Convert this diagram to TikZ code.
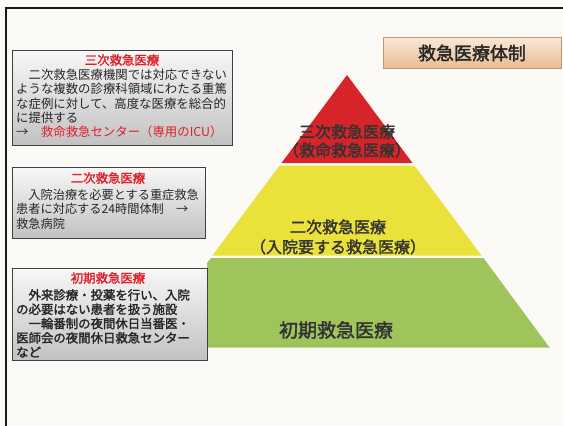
\documentclass[tikz,border=0pt]{standalone}
\usepackage{fontspec}
\newfontfamily\jp{Noto Sans CJK JP}[AutoFakeBold=2]
\definecolor{bgc}{RGB}{252,250,246}
\definecolor{redtier}{RGB}{214,36,42}
\definecolor{yellowtier}{RGB}{234,226,58}
\definecolor{greentier}{RGB}{160,196,92}
\definecolor{titlered}{RGB}{226,30,40}
\definecolor{peachtop}{RGB}{250,232,214}
\definecolor{peachbot}{RGB}{232,186,146}
\definecolor{peachline}{RGB}{196,150,112}
\tikzset{
  infobox/.style={draw=black!75, line width=0.9pt, top color=gray!6, bottom color=gray!48},
  boxtitle/.style={inner sep=0pt, text=titlered, font=\jp\bfseries\fontsize{12.4}{14}\selectfont},
  boxbody/.style={anchor=north west, inner sep=0pt, align=left, text=black!85},
  tierlabel/.style={inner sep=0pt, align=center, text=black!80},
}
\begin{document}
\begin{tikzpicture}[x=1pt,y=-1pt]
\useasboundingbox (0,0) rectangle (563,426);
\fill[bgc] (0,0) rectangle (563,426);
% frame
\draw[line width=2.2pt, black!90] (6,426) -- (6,8) -- (563,8);
% title
\node (title) [draw=peachline, line width=0.8pt, top color=peachtop, bottom color=peachbot,
  minimum width=178pt, minimum height=31pt, inner sep=0pt,
  font=\jp\bfseries\fontsize{18}{20}\selectfont, text=black!85] at (472,53) {救急医療体制};
% pyramid
\fill[redtier] (347,75) -- (412.5,163) -- (281.5,163) -- cycle;
\fill[yellowtier] (279.6,165.5) -- (414.4,165.5) -- (481.5,255.5) -- (212.5,255.5) -- cycle;
\fill[greentier] (211,258) -- (483.5,258) -- (549.5,347.5) -- (207,347.5) -- (207,263) -- cycle;
\node (t3) [tierlabel, font=\jp\bfseries\fontsize{16}{18.5}\selectfont] at (347,141) {三次救急医療\\（救命救急医療）};
\node (t2) [tierlabel, font=\jp\bfseries\fontsize{16}{20}\selectfont] at (338,237) {二次救急医療\\（入院要する救急医療）};
\node (t1) [tierlabel, font=\jp\bfseries\fontsize{19}{21}\selectfont] at (336,330) {初期救急医療};
% box 1
\path[infobox] (12,50) rectangle (232,145);
\node (b3title) [boxtitle] at (122,60) {三次救急医療};
\node (b3body) [boxbody, font=\jp\fontsize{12.4}{14.3}\selectfont] at (16,69)
  {　二次救急医療機関では対応できない\\ような複数の診療科領域にわたる重篤\\な症例に対して、高度な医療を総合的\\に提供する\\→　\textcolor{titlered}{救命救急センター（専用のICU）}};
% box 2
\path[infobox] (12,167) rectangle (205,238);
\node (b2title) [boxtitle] at (108,178) {二次救急医療};
\node (b2body) [boxbody, font=\jp\fontsize{12.2}{14.5}\selectfont] at (16,189)
  {　入院治療を必要とする重症救急\\患者に対応する24時間体制　→\\救急病院};
% box 3
\path[infobox] (12,268) rectangle (207,360);
\node (b1title) [boxtitle] at (108,278) {初期救急医療};
\node (b1body) [boxbody, font=\jp\bfseries\fontsize{12.4}{14.3}\selectfont] at (16,289)
  {　外来診療・投薬を行い、入院\\の必要はない患者を扱う施設\\　一輪番制の夜間休日当番医・\\医師会の夜間休日救急センター\\など};
\end{tikzpicture}
\end{document}
